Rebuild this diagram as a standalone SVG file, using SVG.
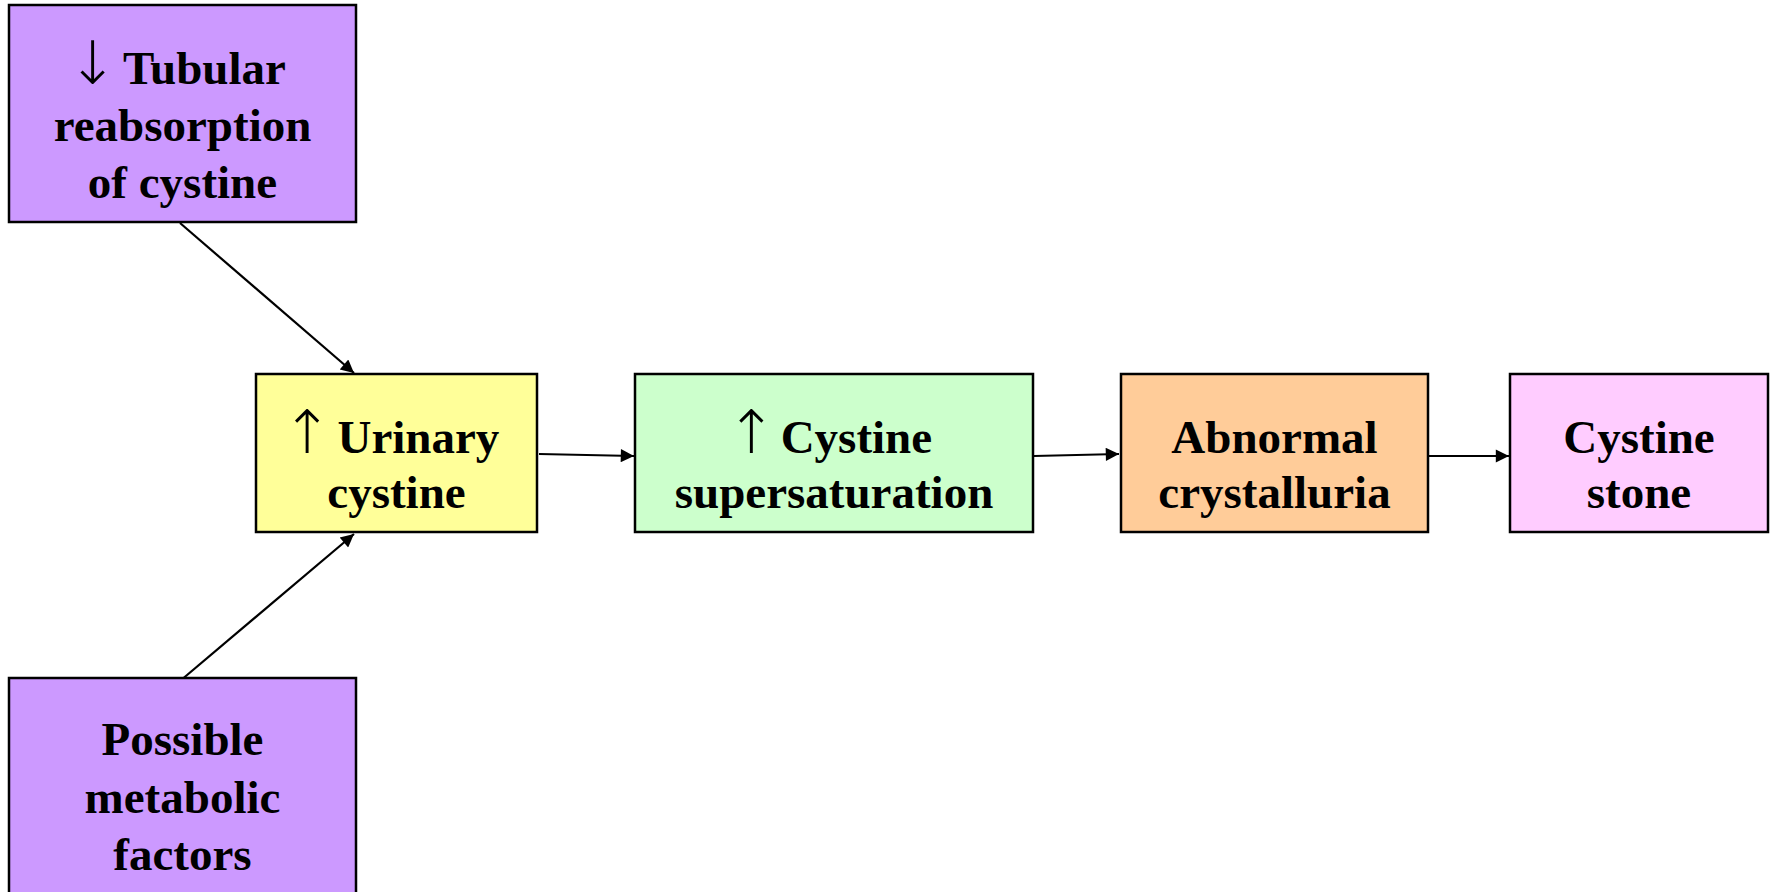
<svg xmlns="http://www.w3.org/2000/svg" width="1771" height="892" viewBox="0 0 1771 892">
  <style>
    .box { stroke: #000; stroke-width: 2.5; }
    .lbl { font-family: "Liberation Serif", "Times New Roman", serif; font-weight: bold; font-size: 47px; fill: #000; text-anchor: middle; }
    .sym { font-family: "DejaVu Sans", sans-serif; font-weight: 200; font-size: 60px; }
    .edge { stroke: #000; stroke-width: 2.2; fill: none; marker-end: url(#arrow); }
  </style>
  <defs>
    <marker id="arrow" viewBox="0 0 10 10" refX="10" refY="5" markerWidth="7.5" markerHeight="6" markerUnits="strokeWidth" orient="auto">
      <path d="M0,0 L10,5 L0,10 z" fill="#000"/>
    </marker>
  </defs>

  <rect width="1771" height="892" fill="#fff"/>

  <!-- connectors -->
  <g id="connectors">
    <line class="edge" x1="180" y1="223" x2="354" y2="373"/>
    <line class="edge" x1="180" y1="681" x2="354" y2="534"/>
    <line class="edge" x1="539" y1="454" x2="634" y2="456"/>
    <line class="edge" x1="1034" y1="456" x2="1119" y2="454"/>
    <line class="edge" x1="1428" y1="456" x2="1509" y2="456"/>
  </g>

  <!-- reduced tubular reabsorption -->
  <g id="tubular">
    <rect class="box" x="9" y="5" width="347" height="217" fill="#CC99FF"/>
    <text class="lbl" x="176.5" y="84"><tspan class="sym">↓</tspan><tspan dx="5.5">Tubular</tspan></text>
    <text class="lbl" x="182.5" y="141">reabsorption</text>
    <text class="lbl" x="182.5" y="198">of cystine</text>
  </g>

  <!-- metabolic factors -->
  <g id="metabolic">
    <rect class="box" x="9" y="678" width="347" height="220" fill="#CC99FF"/>
    <text class="lbl" x="182.5" y="755">Possible</text>
    <text class="lbl" x="182.5" y="813">metabolic</text>
    <text class="lbl" x="182.5" y="870">factors</text>
  </g>

  <!-- urinary cystine -->
  <g id="urinary">
    <rect class="box" x="256" y="374" width="281" height="158" fill="#FFFF99"/>
    <text class="lbl" x="390.5" y="453"><tspan class="sym">↑</tspan><tspan dx="5.5">Urinary</tspan></text>
    <text class="lbl" x="396.5" y="508">cystine</text>
  </g>

  <!-- supersaturation -->
  <g id="supersaturation">
    <rect class="box" x="635" y="374" width="398" height="158" fill="#CCFFCC"/>
    <text class="lbl" x="829" y="453"><tspan class="sym">↑</tspan><tspan dx="4.5">Cystine</tspan></text>
    <text class="lbl" x="834" y="508">supersaturation</text>
  </g>

  <!-- crystalluria -->
  <g id="crystalluria">
    <rect class="box" x="1121" y="374" width="307" height="158" fill="#FFCC99"/>
    <text class="lbl" x="1274.5" y="453">Abnormal</text>
    <text class="lbl" x="1274.5" y="508">crystalluria</text>
  </g>

  <!-- stone -->
  <g id="stone">
    <rect class="box" x="1510" y="374" width="258" height="158" fill="#FFCCFF"/>
    <text class="lbl" x="1639" y="453">Cystine</text>
    <text class="lbl" x="1639" y="508">stone</text>
  </g>
</svg>
